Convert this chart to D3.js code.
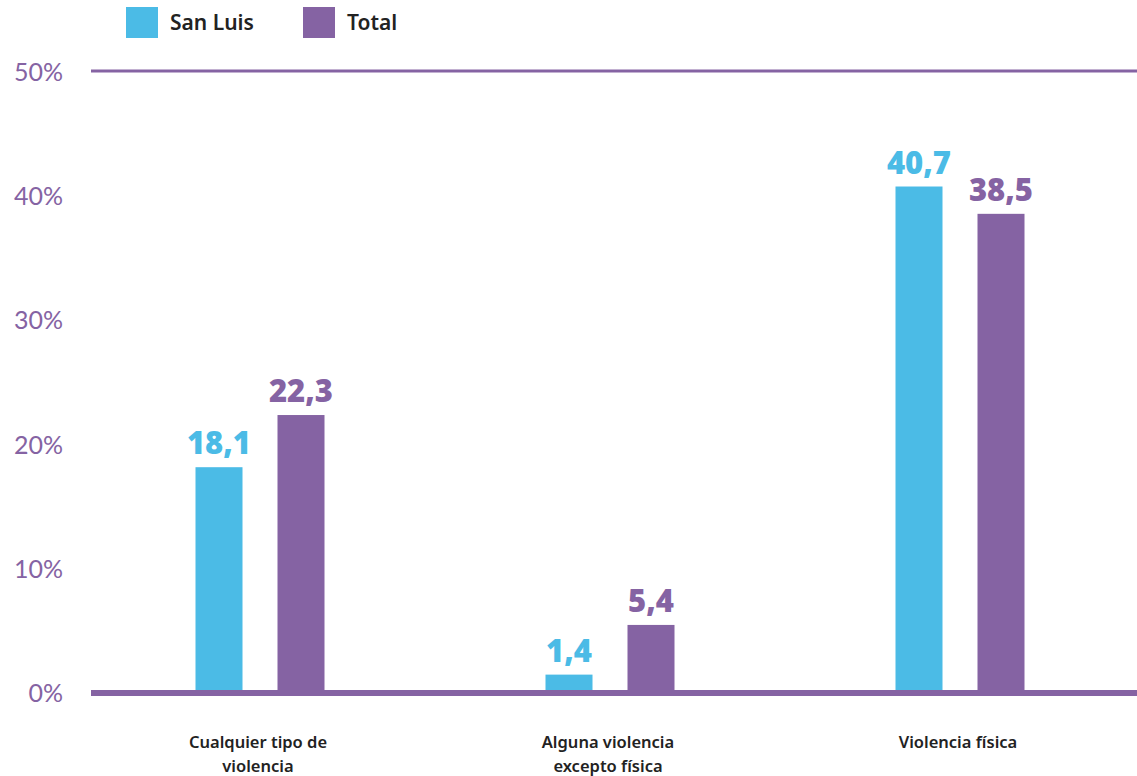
<!DOCTYPE html>
<html><head><meta charset="utf-8">
<script src="https://cdn.jsdelivr.net/npm/d3@7"></script>
<style>body{margin:0;background:#fff}svg{display:block}</style>
</head><body><svg id="c" width="1137" height="776"></svg>
<script>
const categories = [["Cualquier tipo de","violencia"],["Alguna violencia","excepto física"],["Violencia física"]];
const seriesNames = ["San Luis","Total"];
const sanLuis = [18.1, 1.4, 40.7];
const total = [22.3, 5.4, 38.5];
const yTicks = [0,10,20,30,40,50];
const colors = ["#4BBBE6","#8563A3"];

const svg = d3.select("#c");
const x = d3.scaleBand().domain(d3.range(categories.length)).range([85,1135]);
const y = d3.scaleLinear().domain([0,50]).range([692,71]);
const sub = d3.scaleBand().domain([0,1]).range([0,129]).paddingInner(0.4268);

// tick labels
svg.append("g").selectAll("text").data(yTicks).join("text")
  .attr("x",63).attr("y",d=>y(d)+1).attr("dy","0.36em")
  .attr("text-anchor","end").attr("fill","#8563A3")
  .style("font-family","Lato, 'Open Sans', sans-serif").style("font-size","25px")
  .text(d=>d+"%");

// top line
svg.append("line").attr("x1",91).attr("x2",1137).attr("y1",y(50)).attr("y2",y(50))
  .attr("stroke","#8563A3").attr("stroke-width",3);

const data = [];
categories.forEach((c,i)=>{ data.push({c:i,s:0,v:sanLuis[i]}); data.push({c:i,s:1,v:total[i]}); });

const bx = d => x(d.c)+x.bandwidth()/2-64.5+sub(d.s);
svg.append("g").selectAll("rect").data(data).join("rect")
  .attr("x",bx).attr("width",sub.bandwidth())
  .attr("y",d=>y(d.v)).attr("height",d=>y(0)-y(d.v))
  .attr("fill",d=>colors[d.s]);

svg.append("g").selectAll("text").data(data).join("text")
  .attr("x",d=>bx(d)+sub.bandwidth()/2).attr("y",d=>y(d.v)-13)
  .attr("text-anchor","middle").attr("fill",d=>colors[d.s])
  .style("font-family","'Open Sans', Lato, sans-serif").style("font-weight","800").style("font-size","31px")
  .text(d=>d3.format(".1f")(d.v).replace(".",","));

// baseline
svg.append("line").attr("x1",91).attr("x2",1137).attr("y1",y(0)+1).attr("y2",y(0)+1)
  .attr("stroke","#8563A3").attr("stroke-width",6);

// category labels
const cl = svg.append("g").selectAll("text").data(categories).join("text")
  .attr("x",(d,i)=>x(i)+x.bandwidth()/2-2).attr("y",748)
  .attr("text-anchor","middle").attr("fill","#222")
  .style("font-family","'Noto Sans', 'Open Sans', sans-serif").style("font-weight","600").style("font-size","16.5px");
cl.each(function(d){ const t=d3.select(this); d.forEach((l,j)=>t.append("tspan").attr("x",t.attr("x")).attr("dy",j?24:0).text(l)); });

// legend
const lg = svg.append("g").selectAll("g").data(seriesNames).join("g")
  .attr("transform",(d,i)=>`translate(${[126,303][i]},7)`);
lg.append("rect").attr("width",32).attr("height",31).attr("fill",(d,i)=>colors[i]);
lg.append("text").attr("x",44).attr("y",23).attr("fill","#222")
  .style("font-family","'Noto Sans', 'Open Sans', sans-serif").style("font-weight","600").style("font-size","21px")
  .text(d=>d);
</script></body></html>
